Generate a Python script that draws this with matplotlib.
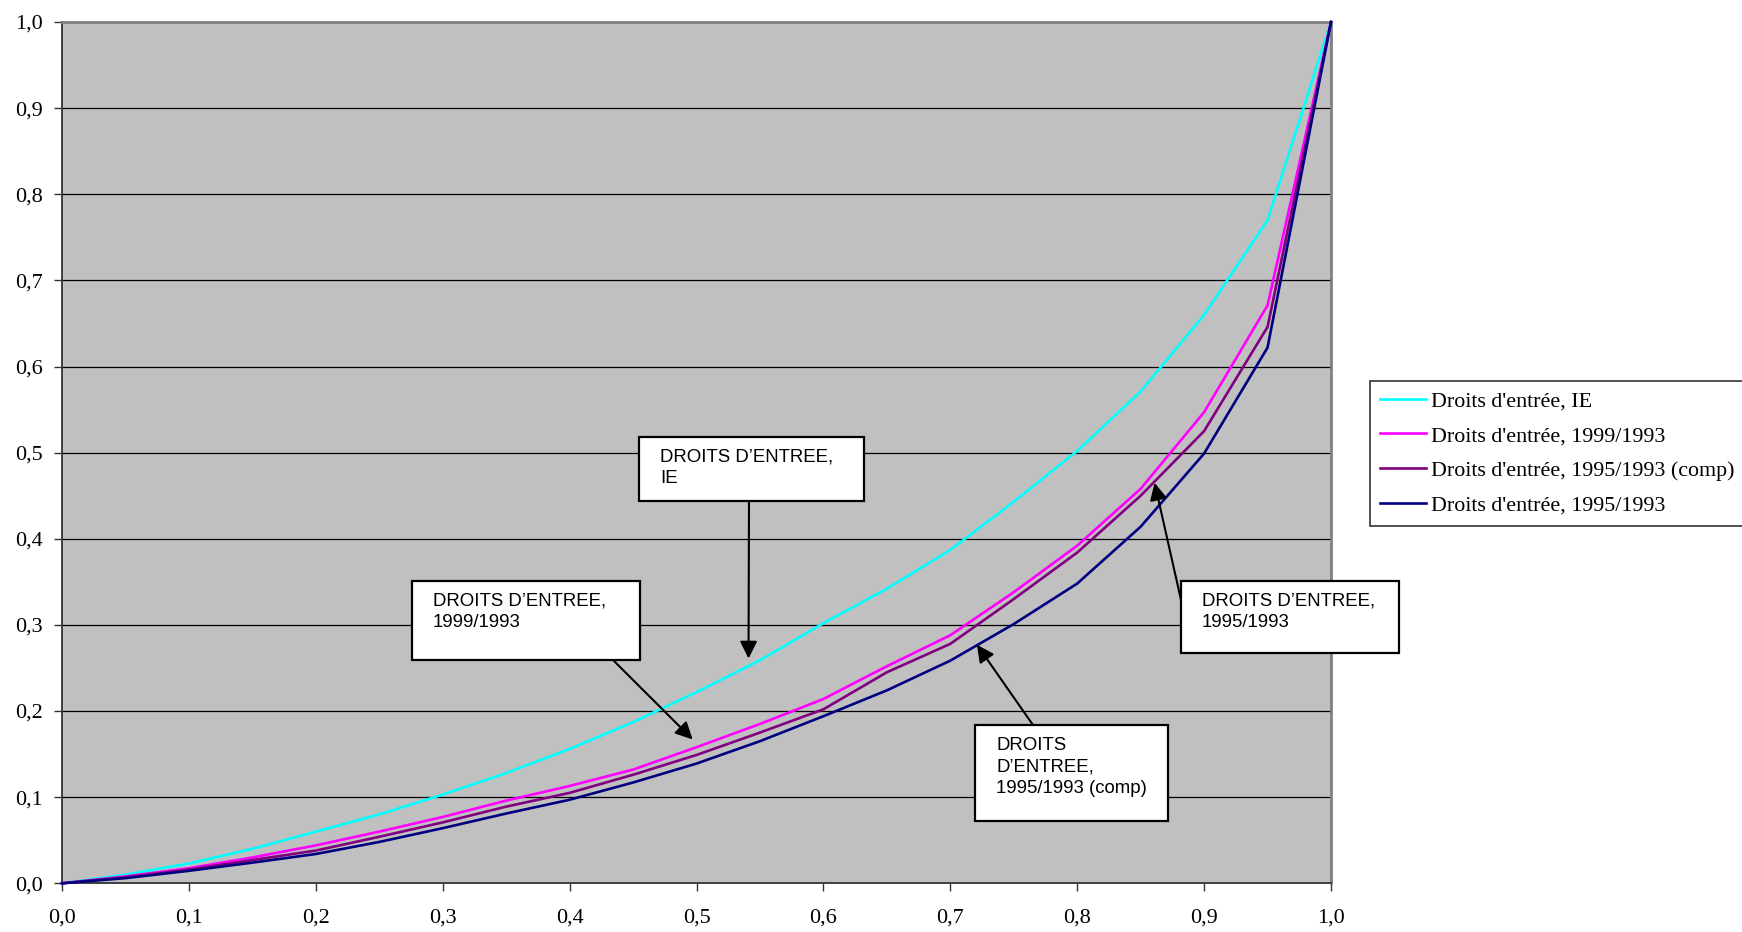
import matplotlib
matplotlib.use("Agg")
import matplotlib.pyplot as plt
from matplotlib.patches import Rectangle

# data (share of population vs cumulative share)
x_vals = [0.0, 0.05, 0.1, 0.15, 0.2, 0.25, 0.3, 0.35, 0.4, 0.45, 0.5,
          0.55, 0.6, 0.65, 0.7, 0.75, 0.8, 0.85, 0.9, 0.95, 1.0]
ie_vals = [0, 0.010, 0.023, 0.040, 0.060, 0.080, 0.103, 0.128, 0.156, 0.187, 0.222,
           0.259, 0.302, 0.342, 0.387, 0.443, 0.502, 0.571, 0.660, 0.770, 1.0]
v1999_vals = [0, 0.008, 0.0175, 0.030, 0.044, 0.060, 0.077, 0.096, 0.113, 0.132, 0.158,
              0.185, 0.214, 0.252, 0.288, 0.338, 0.392, 0.458, 0.547, 0.671, 1.0]
v1995c_vals = [0, 0.007, 0.016, 0.027, 0.038, 0.054, 0.0707, 0.089, 0.105, 0.126, 0.149,
               0.175, 0.202, 0.245, 0.278, 0.330, 0.384, 0.450, 0.525, 0.646, 1.0]
v1995_vals = [0, 0.006, 0.0145, 0.024, 0.034, 0.048, 0.064, 0.081, 0.097, 0.117, 0.139,
              0.165, 0.194, 0.224, 0.2585, 0.301, 0.348, 0.414, 0.499, 0.622, 1.0]

series_names = ["Droits d'entrée, IE", "Droits d'entrée, 1999/1993",
                "Droits d'entrée, 1995/1993 (comp)", "Droits d'entrée, 1995/1993"]
series_colors = ["#00FFFF", "#FF00FF", "#800080", "#000080"]

tick_vals = [i / 10 for i in range(11)]
tick_labels = ["0,0", "0,1", "0,2", "0,3", "0,4", "0,5", "0,6", "0,7", "0,8", "0,9", "1,0"]

# callout boxes: text, arrow target (data)
callout_texts = ["DROITS D\u2019ENTREE,\nIE",
                 "DROITS D\u2019ENTREE,\n1999/1993",
                 "DROITS\nD\u2019ENTREE,\n1995/1993 (comp)",
                 "DROITS D\u2019ENTREE,\n1995/1993"]
callout_targets = [(0.541, 0.261), (0.497, 0.167), (0.721, 0.277), (0.861, 0.465)]

W, H = 1742, 932
fig = plt.figure(figsize=(W / 100, H / 100), dpi=100)
ax = fig.add_axes([62 / W, 1 - 883.3 / H, 1269 / W, 861.3 / H])
ax.set_facecolor("#C0C0C0")

all_series = [ie_vals, v1999_vals, v1995c_vals, v1995_vals]
for vals, name, col in zip(all_series, series_names, series_colors):
    ax.plot(x_vals, vals, color=col, lw=1.9, label=name, clip_on=False, zorder=3)

ax.set_xlim(0, 1)
ax.set_ylim(0, 1)
ax.set_xticks(tick_vals)
ax.set_xticklabels(tick_labels)
ax.set_yticks(tick_vals)
ax.set_yticklabels(tick_labels)
for y in tick_vals[1:-1]:
    ax.axhline(y, color="black", lw=0.9, zorder=1)

for s in ["top", "right"]:
    ax.spines[s].set_color("#808080")
    ax.spines[s].set_linewidth(2)
for s in ["left", "bottom"]:
    ax.spines[s].set_color("#333333")
    ax.spines[s].set_linewidth(1.3)

serif = "Liberation Serif"
ax.tick_params(axis="both", direction="out", length=6, width=1, color="#333333",
               labelsize=16)
ax.tick_params(axis="y", pad=8)
ax.tick_params(axis="x", pad=12)
for lab in ax.get_xticklabels() + ax.get_yticklabels():
    lab.set_fontfamily(serif)

# legend at the right edge, as in the original
leg = fig.legend(loc="upper left", bbox_to_anchor=(1370 / W, 1 - 381 / H),
                 borderaxespad=0, frameon=True, fancybox=False, edgecolor="black",
                 prop={"family": serif, "size": 15.8}, handlelength=2.1,
                 handletextpad=0.25, labelspacing=0.66, borderpad=0.45)
leg.get_frame().set_linewidth(1.2)


def fx(px):
    return px / W


def fy(py):
    return 1 - py / H


# box positions in pixels: left, top, right, bottom, arrow start
boxes = [(639, 437, 864, 501, (749, 501)),
         (412, 581, 640, 660, (613, 660)),
         (975, 725, 1168, 821, (1033, 725)),
         (1181, 581, 1399, 653, (1186, 622))]

for (l, t, r, b, start), txt, tgt in zip(boxes, callout_texts, callout_targets):
    rect = Rectangle((fx(l), fy(b)), fx(r) - fx(l), fy(t) - fy(b),
                     transform=fig.transFigure, facecolor="white",
                     edgecolor="black", lw=1.6, zorder=5)
    fig.patches.append(rect)
    fig.text(fx(l + 21), fy(t + 12), txt, fontsize=13.4, family="Liberation Sans",
             va="top", ha="left", linespacing=1.33, zorder=6)
    ax.annotate("", xy=tgt, xycoords="data",
                xytext=(fx(start[0]), fy(start[1])), textcoords="figure fraction",
                arrowprops=dict(arrowstyle="-|>", color="black", lw=1.5,
                                mutation_scale=26, shrinkA=0, shrinkB=0),
                annotation_clip=False, zorder=7)

fig.savefig("out.png", dpi=100)
